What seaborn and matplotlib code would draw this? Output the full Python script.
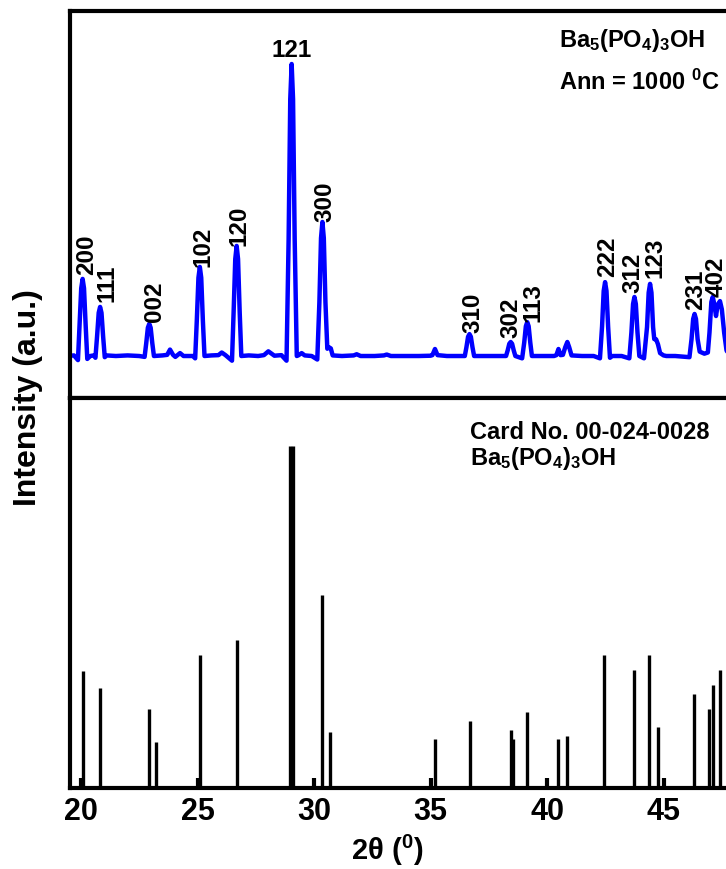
import matplotlib
matplotlib.use("Agg")
import matplotlib.pyplot as plt
import seaborn as sns
import pandas as pd

# ---------------- data ----------------
# measured XRD pattern (2theta in degrees, intensity in arbitrary units)
xrd_two_theta = [
    19.40, 19.70, 19.87, 19.94, 20.01, 20.07, 20.13, 20.20, 20.27, 20.40,
    20.55, 20.62, 20.69, 20.76, 20.82, 20.88, 20.95, 21.02, 21.10, 21.50,
    22.00, 22.50, 22.73, 22.80, 22.87, 22.93, 22.99, 23.06, 23.13, 23.50,
    23.70, 23.82, 23.95, 24.05, 24.25, 24.40, 24.80, 24.90, 24.97, 25.04,
    25.10, 25.16, 25.23, 25.30, 25.60, 25.90, 26.04, 26.20, 26.48, 26.55,
    26.62, 26.68, 26.74, 26.81, 26.88, 27.20, 27.60, 27.85, 28.04, 28.30,
    28.60, 28.82, 28.91, 28.98, 29.04, 29.10, 29.17, 29.26, 29.32, 29.47,
    29.60, 29.90, 30.14, 30.23, 30.30, 30.36, 30.42, 30.49, 30.57, 30.64,
    30.72, 30.80, 31.20, 31.70, 31.83, 32.00, 32.60, 33.00, 33.12, 33.30,
    34.00, 34.50, 35.00, 35.08, 35.19, 35.30, 35.70, 36.20, 36.47, 36.54,
    36.61, 36.67, 36.73, 36.80, 36.87, 37.30, 37.80, 38.24, 38.31, 38.38,
    38.44, 38.50, 38.57, 38.64, 38.93, 39.02, 39.09, 39.15, 39.21, 39.28,
    39.35, 39.80, 40.30, 40.40, 40.49, 40.58, 40.68, 40.78, 40.87, 40.95,
    41.05, 41.50, 42.00, 42.27, 42.36, 42.43, 42.49, 42.55, 42.62, 42.70,
    42.80, 43.20, 43.53, 43.62, 43.69, 43.75, 43.81, 43.88, 43.96, 44.16,
    44.29, 44.36, 44.42, 44.48, 44.55, 44.60, 44.68, 44.76, 44.85, 45.00,
    45.12, 45.50, 46.11, 46.20, 46.27, 46.33, 46.39, 46.46, 46.55, 46.75,
    46.90, 46.97, 47.05, 47.11, 47.17, 47.25, 47.32, 47.42, 47.50, 47.60,
    47.70, 47.80, 48.30,
]
xrd_intensity = [
    0, 2, -14, 106, 232, 264, 232, 106, -10, 0,
    2, -6, 67, 148, 168, 148, 67, -4, 2, 0,
    2, 0, -3, 44, 97, 110, 97, 44, 0, 2,
    4, 22, 4, -3, 10, 0, 0, -8, 122, 268,
    305, 268, 122, 0, 2, 3, 12, 3, -16, 151,
    332, 377, 332, 151, 0, 2, 0, 3, 16, 1,
    3, -16, 400, 880, 1000, 880, 400, 0, 2, 10,
    2, 0, -12, 184, 404, 459, 404, 184, 25, 30,
    26, 2, 0, 2, 6, 0, 0, 2, 5, 0,
    0, 0, 1, 3, 24, 3, 0, 0, 0, 30,
    66, 75, 66, 30, 0, 0, 0, 0, 19, 42,
    48, 42, 19, 0, -8, 46, 102, 116, 102, 46,
    0, 0, 0, 3, 24, 3, 4, 30, 48, 30,
    2, 0, 0, -8, 101, 223, 253, 223, 101, -6,
    0, 0, -8, 81, 178, 202, 178, 81, 0, -8,
    99, 217, 247, 217, 99, 58, 57, 40, 10, 2,
    0, 0, -4, 58, 127, 144, 127, 58, 15, 8,
    12, 80, 185, 202, 180, 137, 175, 188, 160, 80,
    20, 0, 0,
]

# reference card 00-024-0028 stick pattern (relative intensity, %)
card_two_theta = [20.07, 20.82, 22.93, 23.20, 25.10, 26.68, 28.97, 29.11,
                  30.36, 30.69, 35.19, 36.70, 38.44, 38.55, 39.13, 40.49,
                  40.87, 42.45, 43.75, 44.39, 44.74, 46.32, 46.97, 47.14,
                  47.42]
card_intensity = [34.3, 29.1, 23.1, 13.4, 38.9, 43.2, 100, 100,
                  56.4, 16.3, 14.3, 19.7, 17.0, 14.3, 22.3, 14.3,
                  15.3, 38.9, 34.6, 38.9, 17.9, 27.5, 23.1, 30.1,
                  34.6]

# Miller indices annotated on the measured pattern
hkl_labels = ["200", "111", "002", "102", "120", "121", "300", "310",
              "302", "113", "222", "312", "123", "231", "402"]
hkl_two_theta = [20.14, 21.02, 23.03, 25.13, 26.69, 29.04, 30.37, 36.72,
                 38.33, 39.27, 42.49, 43.60, 44.53, 46.25, 47.13]
hkl_intensity = [281, 189, 120, 309, 379, 1028, 463, 82,
                 65, 120, 274, 219, 271, 161, 205]

x_ticks = [20, 25, 30, 35, 40, 45]

# ---------------- styling ----------------
sns.set_theme(style="white")
plt.rcParams["font.family"] = ["Liberation Sans", "DejaVu Sans"]
plt.rcParams["font.weight"] = "bold"
plt.rcParams["axes.labelweight"] = "bold"
plt.rcParams["mathtext.default"] = "regular"
plt.rcParams["text.color"] = "black"
plt.rcParams["axes.labelcolor"] = "black"
plt.rcParams["xtick.color"] = "black"

fig = plt.figure(figsize=(7.26, 8.70), dpi=100)
fig.patch.set_facecolor("white")

left, width = 0.0964, 0.9229
ax1 = fig.add_axes([left, 0.54138, width, 0.44483])
ax2 = fig.add_axes([left, 0.0931, width, 0.44828])

xlim = (19.528, 48.28)

# measured pattern
sns.lineplot(x=xrd_two_theta, y=xrd_intensity, ax=ax1, color="#0000FF",
             linewidth=3.2, sort=False, estimator=None)
ax1.set_xlim(*xlim)
ax1.set_ylim(-143.8, 1181.5)

for lab, xv, yv in zip(hkl_labels, hkl_two_theta, hkl_intensity):
    if lab == "121":
        ax1.text(xv, yv, lab, ha="center", va="baseline", fontsize=17.5,
                 fontweight="bold", color="black")
    else:
        ax1.text(xv, yv, lab, ha="left", va="center_baseline", rotation=90,
                 rotation_mode="anchor", fontsize=17.5, fontweight="bold",
                 color="black")

ax1.text(0.730, 0.9096, r"Ba$_5$(PO$_4$)$_3$OH", transform=ax1.transAxes,
         ha="left", va="baseline", fontsize=17, fontweight="bold")
ax1.text(0.730, 0.7984, r"Ann = 1000 $^0$C", transform=ax1.transAxes,
         ha="left", va="baseline", fontsize=17, fontweight="bold")

# reference card sticks
stick_df = pd.DataFrame({
    "two_theta": [v for v in card_two_theta for _ in range(2)],
    "intensity": [v for h in card_intensity for v in (0, h)],
    "stick": [i for i in range(len(card_two_theta)) for _ in range(2)],
})
sns.lineplot(data=stick_df, x="two_theta", y="intensity", units="stick",
             estimator=None, sort=False, ax=ax2, color="black",
             linewidth=2.4, solid_capstyle="butt")
ax2.set_xlim(*xlim)
ax2.set_ylim(0, 113.9)

ax2.text(0.597, 0.8974, "Card No. 00-024-0028", transform=ax2.transAxes,
         ha="left", va="baseline", fontsize=17, fontweight="bold")
ax2.text(0.597, 0.8308, r"Ba$_5$(PO$_4$)$_3$OH", transform=ax2.transAxes,
         ha="left", va="baseline", fontsize=17, fontweight="bold")

for ax in (ax1, ax2):
    ax.set_facecolor("white")
    ax.set_xlabel("")
    ax.set_ylabel("")
    ax.set_yticks([])
    ax.grid(False)
    for sp in ax.spines.values():
        sp.set_color("black")
        sp.set_linewidth(3)
        sp.set_visible(True)

ax1.set_xticks(x_ticks)
ax1.tick_params(axis="x", bottom=False, labelbottom=False)
ax2.set_xticks(x_ticks)
ax2.tick_params(axis="x", bottom=True, direction="in", length=7, width=3,
                color="black", labelsize=22, pad=6, labelcolor="black")
for t in ax2.get_xticklabels():
    t.set_fontweight("bold")

fig.text(0.0386, 0.5425, "Intensity (a.u.)", rotation=90, ha="center",
         va="center", fontsize=23, fontweight="bold")
fig.text(0.534, 0.0115, r"2θ ($^0$)", ha="center", va="baseline",
         fontsize=21, fontweight="bold")

fig.savefig("out.png", dpi=100, facecolor="white")
